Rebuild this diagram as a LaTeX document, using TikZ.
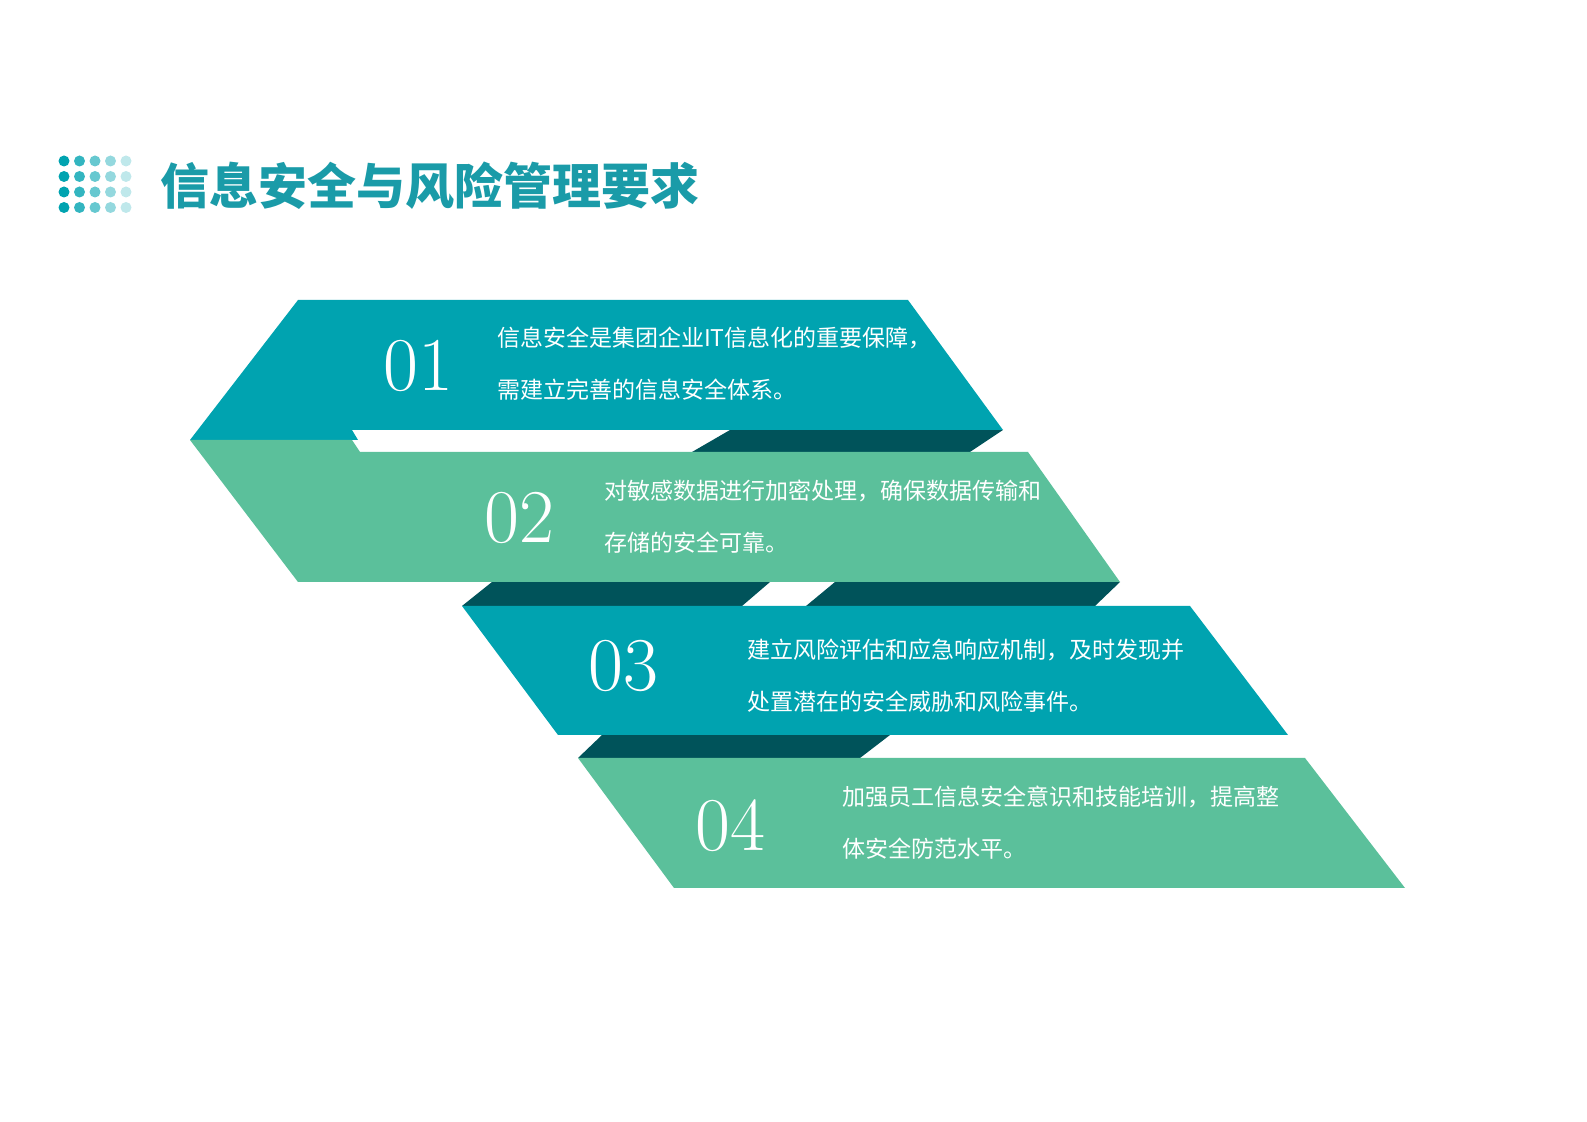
\documentclass[tikz,border=0pt]{standalone}
\usepackage{fontspec}
\newfontfamily\cjk{Noto Sans CJK SC}
\begin{document}
\begin{tikzpicture}[x=0.5pt,y=-0.5pt]
\definecolor{teal1}{HTML}{00A3B0}
\definecolor{green1}{HTML}{5BC09B}
\definecolor{dark1}{HTML}{00535A}
\definecolor{titlec}{HTML}{1A9BA8}
\tikzset{num/.style={text=white,font=\fontsize{38}{38}\selectfont,anchor=center},
 body/.style={text=white,font=\cjk\fontsize{11.5}{26}\selectfont,anchor=west,align=left}}
\useasboundingbox (0,0) rectangle (1587,1122);
% dots
\foreach \c/\o in {0/1,1/0.8,2/0.6,3/0.42,4/0.25}{
 \foreach \r in {0,1,2,3}{
  \fill[teal1,opacity=\o] (64+\c*15.5,161+\r*15.5) circle (5.5);
 }}
\node[anchor=west,text=titlec,font=\cjk\bfseries\fontsize{24.5}{26}\selectfont] (title) at (153,186) {信息安全与风险管理要求};
% shadows
\fill[dark1] (730,430) -- (1003,430) -- (970,452) -- (692,452) -- cycle;
\fill[dark1] (492,582) -- (770,582) -- (742,606) -- (462,606) -- cycle;
\fill[dark1] (835,582) -- (1120,582) -- (1095,606) -- (806,606) -- cycle;
\fill[dark1] (602,735) -- (890,735) -- (860,758) -- (578,758) -- cycle;
% bands
\fill[teal1] (298,300) -- (908,300) -- (1003,430) -- (352,430) -- (358,440) -- (190,440) -- cycle;
\fill[green1] (190,440) -- (352,440) -- (360,452) -- (1028,452) -- (1120,582) -- (298,582) -- cycle;
\fill[teal1] (462,606) -- (1190,606) -- (1288,735) -- (558,735) -- cycle;
\fill[green1] (578,758) -- (1305,758) -- (1405,888) -- (674,888) -- cycle;
% numbers
\node[num] (n1) at (418,366) {01};
\node[num] (n2) at (519,518) {02};
\node[num] (n3) at (623,666) {03};
\node[num] (n4) at (730,826) {04};
\node[body] (t1) at (490,364) {信息安全是集团企业IT信息化的重要保障，\\需建立完善的信息安全体系。};
\node[body] (t2) at (597,517) {对敏感数据进行加密处理，确保数据传输和\\存储的安全可靠。};
\node[body] (t3) at (740,676) {建立风险评估和应急响应机制，及时发现并\\处置潜在的安全威胁和风险事件。};
\node[body] (t4) at (835,823) {加强员工信息安全意识和技能培训，提高整\\体安全防范水平。};
\end{tikzpicture}
\end{document}
